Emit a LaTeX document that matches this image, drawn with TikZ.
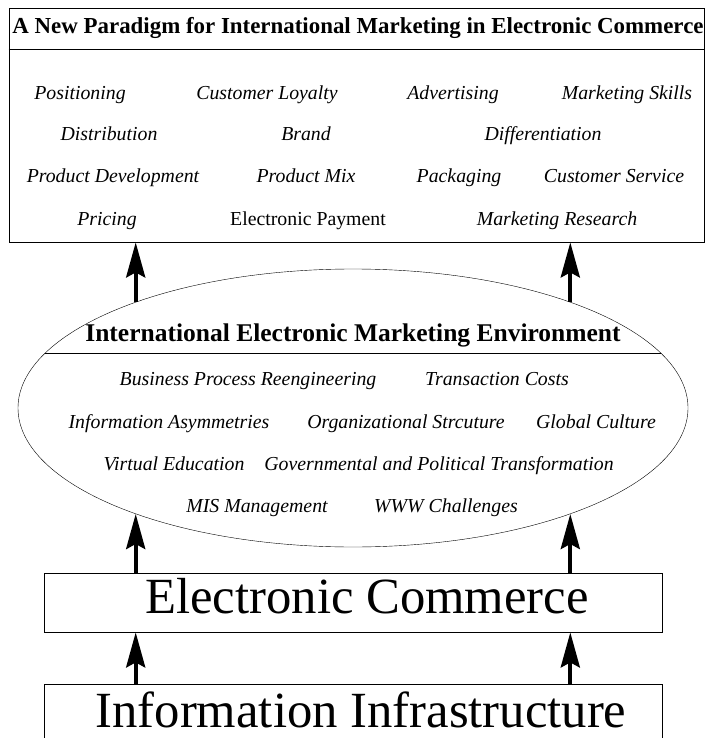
\documentclass[tikz,border=0pt]{standalone}
\usepackage{fontspec}
\setmainfont{Liberation Serif}
\usetikzlibrary{arrows.meta, positioning, shapes.geometric, calc}

\begin{document}
\begin{tikzpicture}[
    x=1pt, y=-1pt,
    >={Stealth[length=35pt, width=19pt, inset=5pt]},
    frame/.style={draw, thick, inner sep=0pt},
    item/.style={font=\fontsize{19.8}{22}\selectfont\itshape, inner sep=0pt, text height=13.5pt, text depth=4.5pt},
    heading/.style={font=\fontsize{22.9}{26}\selectfont\bfseries, inner sep=0pt, text height=15.5pt, text depth=5pt},
    layer/.style={draw, thick, inner sep=0pt, minimum width=618pt, font=\fontsize{50.7}{56}\selectfont},
    uparrow/.style={->, line width=4pt}
]
\useasboundingbox (0,0) rectangle (705,738);

% Paradigm box
\node[frame, minimum width=695pt, minimum height=234pt] (paradigm) at (356.5,125) {};
\node[heading] (ptitle) at (358,28) {A New Paradigm for International Marketing in Electronic Commerce};
\draw[thick] (paradigm.west |- 0,49) -- (paradigm.east |- 0,49);

\node[item] (positioning) at (80,95)  {Positioning};
\node[item] (loyalty)     at (267,95) {Customer Loyalty};
\node[item] (advertising) at (453,95) {Advertising};
\node[item] (skills)      at (627,95) {Marketing Skills};

\node[item] (distribution)    at (109,136) {Distribution};
\node[item] (brand)           at (306,136) {Brand};
\node[item] (differentiation) at (543,136) {Differentiation};

\node[item] (development) at (113,178) {Product Development};
\node[item] (mix)         at (306,178) {Product Mix};
\node[item] (packaging)   at (459,178) {Packaging};
\node[item] (service)     at (614,178) {Customer Service};

\node[item] (pricing)  at (107,221) {Pricing};
\node[item, font=\fontsize{19.8}{22}\selectfont] (payment) at (308,221) {Electronic Payment};
\node[item] (research) at (557,221) {Marketing Research};

% Environment ellipse
\node[draw, ellipse, inner sep=0pt, minimum width=670pt, minimum height=278pt] (env) at (353,408) {};
\node[heading, font=\fontsize{25.5}{28}\selectfont\bfseries] (etitle) at (353,336) {International Electronic Marketing Environment};
\draw (45.3,353) -- (660.7,353);

\node[item] (bpr)         at (248,381) {Business Process Reengineering};
\node[item] (transaction) at (497,381) {Transaction Costs};

\node[item] (asymmetries) at (169,424) {Information Asymmetries};
\node[item] (structure)   at (406,424) {Organizational Strcuture};
\node[item] (culture)     at (596,424) {Global Culture};

\node[item] (education)      at (174,466) {Virtual Education};
\node[item] (transformation) at (439,466) {Governmental and Political Transformation};

\node[item] (mis) at (257,508) {MIS Management};
\node[item] (www) at (446,508) {WWW Challenges};

% Layers
\node[layer, minimum height=59pt] (ec) at (353,602.5) {\hspace*{28pt}Electronic Commerce\strut};
\node[layer, minimum height=70pt, anchor=north] (infra) at (353,684) {};
\node[font=\fontsize{50.7}{56}\selectfont, inner sep=0pt] (infratext) at (361,710) {Information Infrastructure};

% Arrows
\draw[uparrow] (env.154) -- (env.154 |- paradigm.south);
\draw[uparrow] (env.26) -- (env.26 |- paradigm.south);
\draw[uparrow] (env.206 |- ec.north) -- (env.206);
\draw[uparrow] (env.334 |- ec.north) -- (env.334);
\draw[uparrow] (env.206 |- infra.north) -- (env.206 |- ec.south);
\draw[uparrow] (env.334 |- infra.north) -- (env.334 |- ec.south);

\end{tikzpicture}
\end{document}
